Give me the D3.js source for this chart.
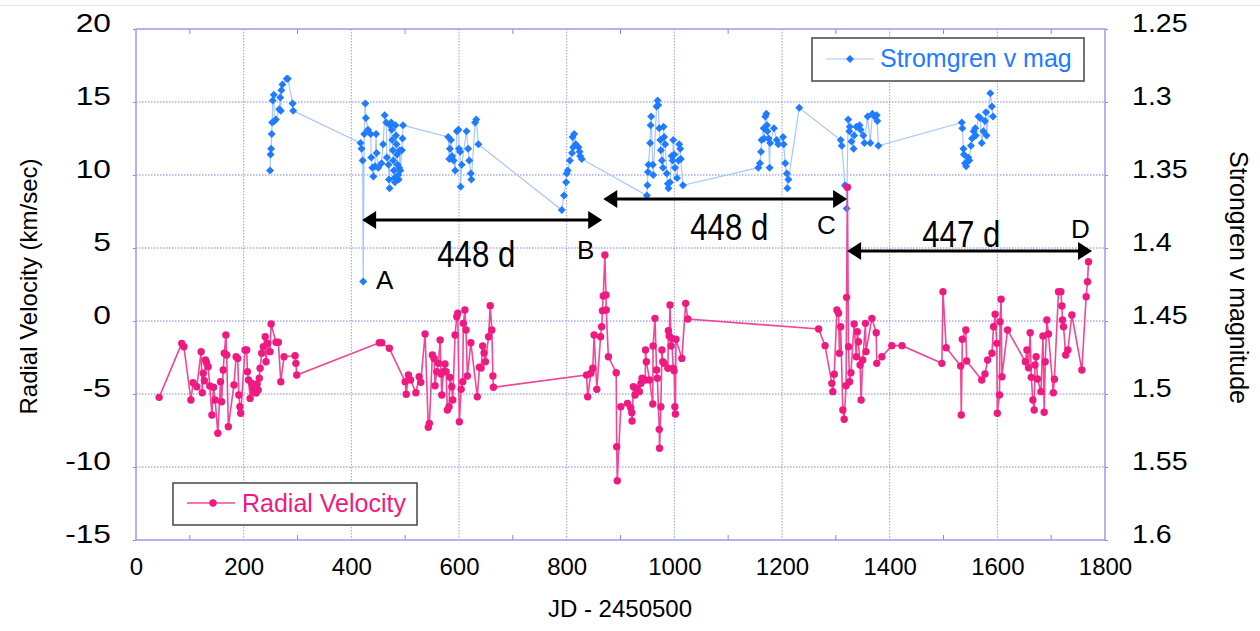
<!DOCTYPE html>
<html><head><meta charset="utf-8">
<script src="https://cdn.jsdelivr.net/npm/d3@7"></script>
<style>
html,body{margin:0;padding:0;background:#fff;}
svg{display:block;font-family:"Liberation Sans",Arial,Helvetica,sans-serif;}
</style></head>
<body><svg id="chart" width="1260" height="631"></svg>
<script>
// ---------- data ----------
const xTicks = [0,200,400,600,800,1000,1200,1400,1600,1800];
const xMinor = [100,300,500,700,900,1100,1300,1500,1700];
const rvTicks = [-15,-10,-5,0,5,10,15,20];
const magTicks = [1.25,1.3,1.35,1.4,1.45,1.5,1.55,1.6];
const magTickLabels = ["1.25","1.3","1.35","1.4","1.45","1.5","1.55","1.6"];

const magDay = [249,250,251,252,253,254,256,257,260,266,268,269,270,272,280,282,291,292,
417,419,421,422,424,426,427,431,436,437,439,441,444,446,447,450,456,459,462,465,466,469,470,471,472,474,475,476,477,478,479,480,481,482,483,484,485,486,487,488,489,490,491,494,495,496,
580,582,583,585,587,590,593,596,599,600,602,603,605,614,617,619,622,623,630,632,636,
791,795,799,800,802,806,810,811,812,814,817,822,824,825,828,
949,950,951,952,955,956,957,960,961,967,969,970,972,974,975,977,979,980,981,983,986,988,989,992,995,997,998,1000,1001,1005,1008,1009,1011,1012,1016,
1156,1159,1161,1162,1166,1167,1169,1171,1172,1173,1175,1177,1178,1185,1190,1193,1202,1203,1206,1209,1210,1212,1232,
1309,1311,1317,1319,1320,1323,1325,1326,1329,1333,1334,1338,1344,1346,1351,1353,1359,1364,1368,1372,1376,1377,1379,
1534,1535,1537,1538,1540,1542,1544,1546,1548,1551,1553,1556,1559,1560,1565,1568,1571,1574,1577,1579,1580,1587,1590,1592];
const magVal = [1.347,1.336,1.332,1.322,1.314,1.299,1.295,1.313,1.312,1.305,1.297,1.306,1.292,1.288,1.284,1.284,1.301,1.306,
1.328,1.332,1.340,1.423,1.322,1.301,1.311,1.319,1.322,1.338,1.345,1.351,1.344,1.322,1.335,1.345,1.342,1.329,1.309,1.314,1.338,1.343,1.353,1.359,1.316,1.314,1.319,1.326,1.333,1.340,1.347,1.352,1.355,1.316,1.323,1.329,1.336,1.343,1.350,1.353,1.345,1.333,1.347,1.333,1.325,1.316,
1.324,1.339,1.332,1.326,1.337,1.340,1.347,1.320,1.319,1.332,1.334,1.358,1.343,1.320,1.332,1.340,1.349,1.353,1.314,1.312,1.329,
1.374,1.364,1.355,1.349,1.347,1.340,1.335,1.324,1.331,1.322,1.329,1.331,1.334,1.337,1.339,
1.364,1.357,1.348,1.343,1.328,1.316,1.310,1.343,1.350,1.303,1.299,1.302,1.318,1.326,1.333,1.340,1.345,1.317,1.324,1.329,1.349,1.356,1.359,1.355,1.337,1.340,1.326,1.336,1.345,1.352,1.340,1.329,1.332,1.339,1.357,
1.345,1.342,1.334,1.326,1.318,1.325,1.310,1.308,1.316,1.320,1.325,1.345,1.328,1.318,1.326,1.329,1.324,1.329,1.342,1.349,1.359,1.353,1.304,
1.326,1.330,1.357,1.358,1.373,1.312,1.320,1.317,1.327,1.332,1.323,1.317,1.316,1.319,1.323,1.328,1.310,1.328,1.308,1.310,1.309,1.313,1.330,
1.314,1.318,1.332,1.336,1.342,1.344,1.341,1.338,1.340,1.330,1.325,1.320,1.318,1.323,1.310,1.311,1.328,1.320,1.313,1.307,1.323,1.294,1.303,1.310];

const rvDay = [43,85,89,102,106,113,121,123,125,127,129,131,134,137,141,144,147,152,157,159,162,164,167,168.5,171.5,182,186,189,191,193,194.5,202.5,205.7,207,209,212,215,217,219,221,223,225,227,229,230.5,233.5,236.5,240,241.5,244.7,249,251,260,264.4,269,275,295.5,297,298.6,
452,456.5,470.6,500,502,506,510,520,526,529,537,543,545,550.5,553.7,555.5,558.7,561.7,565,566.7,568,571,574,576,578.4,581.5,583.4,586.6,588.4,592.7,595.9,597.7,600.7,604,607,608,611,613,615.5,622,634,638,641,644,646.6,649,655,658,661,663,664,
837,839,845,848.5,851,856,863,865,866.5,868,871,873,873.5,877.5,892,893,894,900.6,913,919,921,921.5,924,927,930,935,938,940,946,946.5,948,954,960,960.5,964,967,968.5,972,972.5,975,977,978.6,981,988,989,990.5,992,994,995,998,999.6,1001,1002,1003,1014,1021,1025,
1268,1280,1292.6,1294.5,1297,1302,1305,1306.7,1309,1313,1315.5,1319,1320,1321.5,1323.5,1325.5,1328,1334,1338,1340,1342,1345,1347,1350,1355,1356,1367,1375,1376,1385.5,1404,1423,
1497,1499,1505,1532,1533,1535,1541.5,1543,1571,1577,1582,1590,1593,1596,1599,1600,1604,1605,1607,1608.5,1619,1652,1655,1658,1661,1663,1666,1668.5,1670,1672,1674.6,1681,1684.7,1687,1689,1692,1695,1704,1706,1713.6,1718,1720,1721,1723,1727,1731,1738.5,1757,1765,1767.5,1769.4];
const rvVal = [-5.23,-1.53,-1.76,-5.41,-4.23,-4.50,-2.10,-4.91,-3.58,-4.09,-2.67,-2.86,-3.13,-4.45,-6.44,-4.54,-5.41,-7.69,-4.16,-5.53,-3.36,-2.21,-0.96,-2.33,-7.24,-4.38,-2.45,-2.56,-5.07,-5.87,-6.32,-1.99,-1.99,-3.47,-4.04,-5.30,-4.27,-4.52,-4.86,-4.38,-4.93,-4.32,-4.73,-3.92,-3.24,-2.21,-1.76,-1.08,-2.79,-1.53,-2.10,-0.21,-1.46,-1.46,-4.16,-2.45,-2.38,-2.90,-3.70,
-1.49,-1.49,-1.87,-4.16,-5.02,-3.70,-4.04,-4.91,-3.82,-4.20,-0.89,-7.28,-7.01,-2.33,-2.56,-4.43,-3.47,-2.90,-1.30,-3.63,-5.07,-3.47,-2.95,-3.47,-6.10,-5.87,-3.86,-4.50,-5.41,-0.96,0.29,0.53,-6.90,-4.68,-4.16,-0.16,0.75,-0.62,-3.77,-1.49,-5.19,-3.17,-3.22,-1.71,-2.19,-2.79,-1.08,1.05,-0.62,-3.77,-4.54,
-3.70,-5.19,-3.58,-3.24,-0.96,-4.68,-1.08,-0.39,0.71,1.71,4.52,1.78,0.75,-2.45,-3.54,-8.61,-10.94,-5.87,-5.64,-5.94,-6.28,-6.85,-4.50,-5.07,-4.61,-4.84,-4.27,-3.92,-4.04,-1.99,-2.79,-4.04,-5.69,-1.71,0.18,-3.36,-3.92,-7.42,-8.72,-5.87,-1.99,-2.79,-2.90,-3.24,-0.66,-1.03,1.10,-1.71,-1.19,-3.24,-3.40,-5.87,-6.37,-1.25,-2.56,1.21,0.14,
-0.55,-1.69,-4.27,-4.84,-3.65,0.75,0.53,-2.21,-0.39,-6.10,-6.73,-4.43,1.62,9.16,-1.76,-4.16,-3.54,-0.21,-2.45,-0.73,-1.42,-3.01,-5.41,-2.67,-0.16,-2.10,0.18,-0.80,-2.90,-2.45,-1.69,-1.69,
-2.90,2.01,-1.83,-3.08,-6.44,-1.25,-0.62,-2.74,-4.04,-3.63,-2.67,-2.21,-0.39,0.46,-1.53,-6.32,-5.07,-0.05,1.49,-3.82,-0.62,-2.79,-1.99,-3.20,-0.80,-3.86,-5.41,-6.10,-3.01,-2.45,-3.97,-4.84,-1.03,-6.25,-2.79,0.07,-0.89,-4.91,-3.99,2.01,2.01,1.03,0.07,-0.39,-2.33,-1.99,0.41,-3.36,1.66,2.69,4.06];

// annotation arrows (days, velocity level) and labels
const arrowFrom = [420, 868, 1321];
const arrowTo   = [866, 1321, 1776];
const arrowRV   = [6.92, 8.36, 4.80];
const spanText  = ["448 d", "448 d", "447 d"];
const spanDay   = [632, 1102, 1533];
const spanRV    = [3.70, 5.55, 5.07];
const pointText = ["A", "B", "C", "D"];
const pointDay  = [446, 819, 1265, 1737];
const pointRV   = [2.19, 4.25, 5.96, 5.69];

// ---------- drawing ----------
const svg = d3.select("#chart");
const L = 136, R = 1105, T = 29, B = 540;
const FONT = "Liberation Sans, Arial, Helvetica, sans-serif";
const BLUE = "#1f7bff", BLUE_LINE = "#a9c7fb", PINK = "#ee1a82", PINK_LINE = "#f04796";

const x = d3.scaleLinear().domain([0, 1800]).range([L, R]);
const yRV = d3.scaleLinear().domain([-15, 20]).range([B, T]);
const yMag = d3.scaleLinear().domain([1.25, 1.6]).range([T, B]);

function widen(sel, k) {
  sel.each(function () {
    const w = this.getComputedTextLength();
    d3.select(this).attr("textLength", w * k).attr("lengthAdjust", "spacingAndGlyphs");
  });
}

// top screenshot line
svg.append("line").attr("x1", 0).attr("x2", 1260).attr("y1", 5.5).attr("y2", 5.5)
  .attr("stroke", "#e6e6e6").attr("stroke-width", 1);

// grid
const grid = svg.append("g");
grid.selectAll(".vg").data(xTicks.slice(1, -1)).join("line")
  .attr("x1", d => x(d)).attr("x2", d => x(d)).attr("y1", T).attr("y2", B)
  .attr("stroke", "#9a9aec").attr("stroke-width", 1).attr("stroke-dasharray", "1.5,1.5");
grid.selectAll(".hg").data(rvTicks.slice(1, -1)).join("line")
  .attr("x1", L).attr("x2", R).attr("y1", d => yRV(d)).attr("y2", d => yRV(d))
  .attr("stroke", "#8080e6").attr("stroke-width", 1).attr("stroke-dasharray", "1.5,1.5");

// axes with d3 axis generators
const axB = d3.axisBottom(x).tickValues(xTicks).tickSize(0).tickFormat(d => String(d));
const gB = svg.append("g").attr("transform", `translate(0,${B})`).call(axB);
gB.select(".domain").remove();
gB.selectAll("text").attr("font-family", FONT).attr("font-size", 24).attr("fill", "#000").attr("dy", "1.35em");

const axL = d3.axisLeft(yRV).tickValues(rvTicks).tickSize(3).tickPadding(22).tickFormat(d => String(d));
const gL = svg.append("g").attr("transform", `translate(${L},0)`).call(axL);
gL.select(".domain").remove();
gL.selectAll("line").attr("stroke", "#8888dd");
gL.selectAll("text").attr("font-family", FONT).attr("font-size", 26).attr("fill", "#000").attr("dy", "0.08em");
widen(gL.selectAll("text"), 1.22);

const axR = d3.axisRight(yMag).tickValues(magTicks).tickSize(3).tickPadding(24)
  .tickFormat((d, i) => magTickLabels[i]);
const gR = svg.append("g").attr("transform", `translate(${R},0)`).call(axR);
gR.select(".domain").remove();
gR.selectAll("line").attr("stroke", "#8888dd");
gR.selectAll("text").attr("font-family", FONT).attr("font-size", 26).attr("fill", "#000").attr("dy", "0.08em");
widen(gR.selectAll("text"), 1.1);

// minor ticks on top and bottom edges
svg.append("g").selectAll("line").data(xMinor).join("line")
  .attr("x1", d => x(d)).attr("x2", d => x(d)).attr("y1", B).attr("y2", B - 5)
  .attr("stroke", "#8888dd");
svg.append("g").selectAll("line").data(xMinor).join("line")
  .attr("x1", d => x(d)).attr("x2", d => x(d)).attr("y1", T).attr("y2", T + 5)
  .attr("stroke", "#8888dd");

// frame
svg.append("rect").attr("x", L).attr("y", T).attr("width", R - L).attr("height", B - T)
  .attr("fill", "none").attr("stroke", "#9b9be8").attr("stroke-width", 1.5);

// axis titles
svg.append("text").attr("transform", `translate(37,${(T + B) / 2 + 2}) rotate(-90)`)
  .attr("text-anchor", "middle").attr("font-family", FONT).attr("font-size", 24).attr("fill", "#000")
  .text("Radial Velocity (km/sec)");
svg.append("text").attr("transform", `translate(1230,${(T + B) / 2 - 7}) rotate(90)`)
  .attr("text-anchor", "middle").attr("font-family", FONT).attr("font-size", 25).attr("fill", "#000")
  .text("Strongren v magnitude");
svg.append("text").attr("x", 620).attr("y", 617).attr("text-anchor", "middle")
  .attr("font-family", FONT).attr("font-size", 24).attr("fill", "#000").text("JD - 2450500");

// series data
const magData = magDay.map((d, i) => ({ d, v: magVal[i] }));
const rvData = rvDay.map((d, i) => ({ d, v: rvVal[i] }));
const diamond = "M0,-4L4,0L0,4L-4,0Z";

// Stromgren series
svg.append("path").datum(magData)
  .attr("d", d3.line().x(p => x(p.d)).y(p => yMag(p.v)))
  .attr("fill", "none").attr("stroke", BLUE_LINE).attr("stroke-width", 1.2);
svg.append("g").selectAll("path").data(magData).join("path")
  .attr("transform", p => `translate(${x(p.d)},${yMag(p.v)})`)
  .attr("d", diamond).attr("fill", BLUE);

// Radial velocity series
svg.append("path").datum(rvData)
  .attr("d", d3.line().x(p => x(p.d)).y(p => yRV(p.v)))
  .attr("fill", "none").attr("stroke", PINK_LINE).attr("stroke-width", 1.6);
svg.append("g").selectAll("circle").data(rvData).join("circle")
  .attr("cx", p => x(p.d)).attr("cy", p => yRV(p.v)).attr("r", 3.7).attr("fill", PINK);

// annotation arrows
const ann = svg.append("g");
arrowFrom.forEach((a, i) => {
  const x1 = x(a), x2 = x(arrowTo[i]), yy = yRV(arrowRV[i]);
  const hl = 14, hw = 9;
  ann.append("line").attr("x1", x1 + hl - 2).attr("x2", x2 - hl + 2).attr("y1", yy).attr("y2", yy)
    .attr("stroke", "#000").attr("stroke-width", 3);
  ann.append("path").attr("d", `M${x1},${yy}L${x1 + hl},${yy - hw}L${x1 + hl},${yy + hw}Z`).attr("fill", "#000");
  ann.append("path").attr("d", `M${x2},${yy}L${x2 - hl},${yy - hw}L${x2 - hl},${yy + hw}Z`).attr("fill", "#000");
});
spanText.forEach((t, i) => {
  ann.append("text").attr("x", x(spanDay[i])).attr("y", yRV(spanRV[i])).attr("text-anchor", "middle")
    .attr("font-family", FONT).attr("font-size", 37).attr("fill", "#000")
    .attr("textLength", 78).attr("lengthAdjust", "spacingAndGlyphs").text(t);
});
pointText.forEach((t, i) => {
  ann.append("text").attr("x", x(pointDay[i])).attr("y", yRV(pointRV[i]))
    .attr("font-family", FONT).attr("font-size", 26).attr("fill", "#000").text(t);
});

// legends
const lg1 = svg.append("g");
lg1.append("rect").attr("x", 812).attr("y", 38).attr("width", 272).attr("height", 43)
  .attr("fill", "#fff").attr("stroke", "#444").attr("stroke-width", 1.5);
lg1.append("line").attr("x1", 826).attr("x2", 874).attr("y1", 59).attr("y2", 59)
  .attr("stroke", BLUE_LINE).attr("stroke-width", 1.2);
lg1.append("path").attr("transform", "translate(850,59)").attr("d", diamond).attr("fill", BLUE);
lg1.append("text").attr("x", 880).attr("y", 67).attr("font-family", FONT).attr("font-size", 25)
  .attr("fill", BLUE).text("Stromgren v mag");

const lg2 = svg.append("g");
lg2.append("rect").attr("x", 173).attr("y", 483).attr("width", 244).attr("height", 42)
  .attr("fill", "#fff").attr("stroke", "#444").attr("stroke-width", 1.5);
lg2.append("line").attr("x1", 187).attr("x2", 235).attr("y1", 503).attr("y2", 503)
  .attr("stroke", PINK_LINE).attr("stroke-width", 1.6);
lg2.append("circle").attr("cx", 213).attr("cy", 503).attr("r", 3.7).attr("fill", PINK);
lg2.append("text").attr("x", 242).attr("y", 512).attr("font-family", FONT).attr("font-size", 25)
  .attr("fill", PINK).text("Radial Velocity");
</script></body></html>
